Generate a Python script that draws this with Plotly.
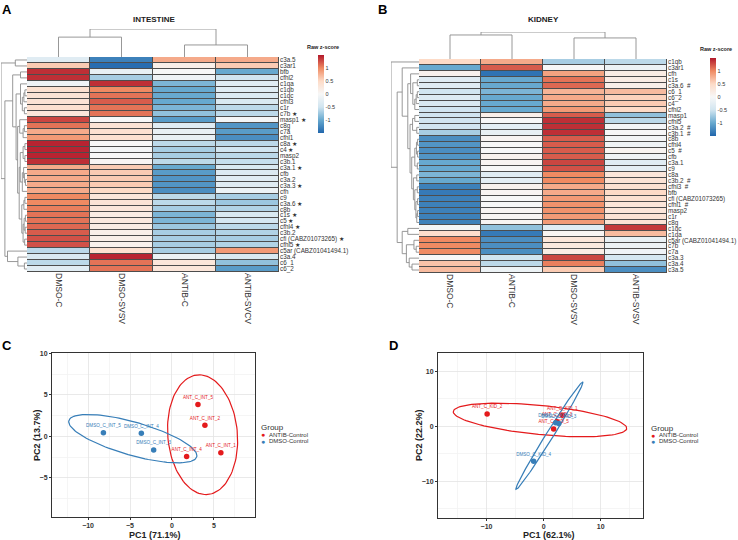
import numpy as np
import plotly.graph_objects as go

W, H = 738, 540
FONT = "Liberation Sans, Arial, sans-serif"

# ---------------- Panel A : INTESTINE heatmap ----------------
int_cols = ["DMSO-C", "DMSO-SVSV", "ANTIB-C", "ANTIB-SVCV"]
int_rows = ["c3a.5", "c3ar1", "bfb", "cfhl2", "c1qa", "c1qb", "c1qc", "cfhl3", "c1r", "c7b ★",
            "masp1 ★", "c8g", "c7a", "cfhl1", "c8a ★", "c4 ★", "masp2", "c3b.1", "c3a.1 ★", "cfb",
            "c3a.2", "c3a.3 ★", "cfh", "c9", "c3a.6 ★", "c8b", "c1s ★", "c5 ★", "cfhl4 ★", "c3b.2",
            "cfi (CABZ01073265) ★", "cfhl5 ★", "c5ar (CABZ01041494.1)", "c3a.4", "c6_1", "c6_2"]
int_z = [
    [-0.3, -1.3, 0.8, 0.8], [0.6, -1.45, 0.15, 0.6], [1.4, -0.2, 0.0, -1.0], [1.4, -0.7, -0.1, -0.5],
    [-0.1, 1.4, -0.9, -0.3], [0.4, 1.0, -1.0, -0.3], [0.35, 1.1, -1.0, -0.35], [0.35, 1.2, -1.0, -0.4],
    [0.4, 1.1, -0.9, -0.6], [0.3, 1.1, -0.8, -0.6], [1.3, 0.0, -1.1, -0.05], [1.1, 0.35, -0.3, -1.15],
    [0.8, 0.4, -0.2, -1.1], [0.9, 0.4, -0.2, -1.2], [1.45, 0.0, -0.6, -0.6], [1.45, -0.05, -0.7, -0.5],
    [1.45, 0.0, -0.7, -0.6], [1.4, 0.05, -0.6, -0.55], [0.8, 0.6, -1.0, -0.4], [0.8, 0.6, -1.1, -0.35],
    [0.8, 0.6, -1.15, -0.3], [0.8, 0.6, -1.15, -0.3], [0.8, 0.5, -1.2, -0.15], [1.0, 0.3, -0.6, -0.7],
    [1.0, 0.35, -0.6, -0.75], [1.05, 0.3, -0.7, -0.65], [1.1, 0.2, -0.9, -0.4], [1.1, 0.25, -0.9, -0.45],
    [1.15, 0.2, -0.75, -0.6], [1.2, 0.15, -0.7, -0.65], [1.25, 0.15, -0.7, -0.7], [1.25, 0.1, -0.7, -0.65],
    [-0.6, 0.4, -0.7, 0.9], [-0.4, 1.45, -0.15, -0.4], [-0.6, 1.1, 0.3, -0.8], [-0.3, 1.1, 0.3, -1.1]]
int_row_merges = [
    [34, 35, 1.0], [33, 36, 3.5], [32, 37, 7.5], [0, 1, 4.5], [2, 3, 2.5], [5, 6, 0.8], [41, 7, 1.2],
    [8, 9, 1.0], [42, 43, 1.8], [4, 44, 2.5], [11, 12, 1.0], [46, 13, 1.5], [10, 47, 2.8], [14, 15, 0.8],
    [16, 17, 0.8], [49, 50, 1.5], [20, 21, 0.6], [19, 52, 1.0], [18, 53, 1.3], [54, 22, 1.8],
    [23, 24, 0.8], [25, 56, 1.2], [26, 27, 0.6], [28, 29, 0.7], [58, 59, 1.1], [30, 31, 0.9],
    [60, 61, 1.5], [57, 62, 2.0], [51, 55, 2.6], [64, 63, 3.0], [48, 65, 3.6], [45, 66, 4.2],
    [40, 67, 5.5], [68, 38, 8.5], [39, 69, 10.0]]
int_col_merges = [[0, 1, 7.1], [2, 3, 4.3], [4, 5, 10.0]]

# ---------------- Panel B : KIDNEY heatmap ----------------
kid_cols = ["DMSO-C", "ANTIB-C", "DMSO-SVSV", "ANTIB-SVSV"]
kid_rows = ["c1qb", "c3ar1", "cfh", "c1s", "c3a.6  #", "c6_1", "c6_2", "c4", "cfhl2", "masp1",
            "cfhl5", "c3a.2  #", "c3b.1  #", "c8b", "cfhl4", "c5  #", "cfb", "c3a.1", "c9", "c8a",
            "c3b.2  #", "cfhl3  #", "bfb", "cfi (CABZ01073265)", "cfhl1  #", "masp2", "c1r", "c8g",
            "c1qc", "c1qa", "c5ar (CABZ01041494.1)", "c7b", "c7a", "c3a.3", "c3a.4", "c3a.5"]
kid_z = [
    [0.5, 0.8, -0.7, -0.6], [-1.0, 1.2, 0.0, -0.15], [0.1, -1.4, 0.85, 0.2], [-0.3, -1.0, 1.1, 0.2],
    [-0.3, -1.0, 1.15, 0.15], [-0.5, -0.9, 0.75, 0.7], [-0.35, -1.0, 0.8, 0.55], [-0.4, -1.0, 0.8, 0.6],
    [-0.5, -1.0, 0.9, 0.5], [-0.5, 0.15, 1.2, -0.8], [-0.5, 0.0, 1.4, -0.6], [-0.5, -0.25, 1.4, -0.05],
    [-0.7, -0.2, 1.4, 0.0], [-1.2, 0.05, 1.2, -0.05], [-1.15, 0.0, 1.2, -0.1], [-1.2, 0.0, 1.2, 0.05],
    [-1.15, 0.1, 1.2, -0.1], [-1.0, 0.05, 1.3, -0.3], [-1.0, 0.0, 1.25, -0.25], [-0.9, -0.3, 1.0, 0.3],
    [-1.0, -0.25, 1.0, 0.35], [-1.3, 0.1, 0.8, 0.4], [-1.35, 0.05, 0.8, 0.5], [-1.3, 0.0, 0.9, 0.4],
    [-1.3, 0.0, 0.95, 0.3], [-1.3, 0.05, 0.95, 0.3], [-1.3, 0.05, 0.9, 0.35], [-1.3, 0.05, 0.9, 0.35],
    [-0.05, -0.8, -0.3, 1.35], [0.45, -1.35, 0.05, 0.7], [1.0, -1.2, 0.3, -0.2], [1.0, -1.2, 0.25, -0.15],
    [1.0, -1.2, 0.2, -0.1], [0.0, -0.5, 1.3, -0.45], [0.65, -0.6, 1.05, -0.8], [0.7, -0.15, 0.6, -1.2]]
kid_row_merges = [
    [5, 6, 0.6], [36, 7, 1.0], [37, 8, 1.5], [3, 4, 0.6], [39, 38, 2.2], [2, 40, 3.0], [9, 10, 1.5],
    [11, 12, 0.8], [42, 43, 2.3], [13, 14, 0.5], [15, 16, 0.5], [45, 46, 0.9], [17, 18, 0.6],
    [47, 48, 1.5], [19, 20, 0.8], [21, 22, 0.6], [23, 24, 0.5], [25, 26, 0.5], [53, 27, 0.8],
    [52, 54, 1.1], [51, 55, 1.5], [50, 56, 2.0], [49, 57, 2.6], [44, 58, 3.2], [41, 59, 4.0],
    [1, 60, 6.0], [28, 29, 4.0], [31, 32, 1.0], [30, 63, 1.8], [34, 35, 2.5], [33, 65, 3.5],
    [64, 66, 4.5], [62, 67, 6.0], [61, 68, 7.8], [0, 69, 10.0]]
kid_col_merges = [[0, 1, 8.9], [2, 3, 7.8], [4, 5, 10.0]]

# ---------------- Panel C / D : PCA ----------------
c_antib_x = [3.1, 3.93, 5.83, 1.75]
c_antib_y = [3.84, 1.36, -1.96, -2.4]
c_antib_lab = ["ANT_C_INT_5", "ANT_C_INT_2", "ANT_C_INT_1", "ANT_C_INT_4"]
c_dmso_x = [-8.17, -3.65, -2.18]
c_dmso_y = [0.44, 0.4, -1.64]
c_dmso_lab = ["DMSO_C_INT_5", "DMSO_C_INT_4", "DMSO_C_INT_3"]

d_antib_x = [-9.9, 3.27, 2.33, 1.75]
d_antib_y = [2.2, 2.0, 0.8, -0.5]
d_antib_lab = ["ANT_C_KID_2", "ANT_C_KID_1", "ANT_C_KID_3", "ANT_C_KID_5"]
d_dmso_x = [-1.75, 2.1, 2.65]
d_dmso_y = [-6.36, 0.6, 0.5]
d_dmso_lab = ["DMSO_C_KID_4", "DMSO_C_KID_1", "DMSO_C_KID_3"]

RED = "#E41A1C"
BLUE = "#377EB8"
RDBU = [[0.0, "#2166AC"], [1/6, "#67A9CF"], [2/6, "#D1E5F0"], [0.5, "#F7F7F7"],
        [4/6, "#FDDBC7"], [5/6, "#EF8A62"], [1.0, "#B2182B"]]


def xd(a, b):
    return [a / W, b / W]


def yd(top, bottom):
    return [1 - bottom / H, 1 - top / H]


def dendro(n, merges):
    pos = {i: float(i) for i in range(n)}
    hgt = {i: 0.0 for i in range(n)}
    p, h = [], []
    for k, (a, b, ht) in enumerate(merges):
        pa, pb = pos[a], pos[b]
        p += [pa, pa, pb, pb, None]
        h += [hgt[a], ht, ht, hgt[b], None]
        pos[n + k] = (pa + pb) / 2
        hgt[n + k] = ht
    return p, h


def ellipse(xs, ys, r=2.4477, n=120):
    xs, ys = np.array(xs), np.array(ys)
    cov = np.cov(np.vstack([xs, ys]))
    vals, vecs = np.linalg.eigh(cov)
    t = np.linspace(0, 2 * np.pi, n)
    circ = np.vstack([np.cos(t), np.sin(t)]) * (np.sqrt(vals)[:, None] * r)
    pts = vecs @ circ
    return pts[0] + xs.mean(), pts[1] + ys.mean()


fig = go.Figure()
shapes = []
annotations = []
DCOL = "#8c8c8c"


def add_heatmap(z, rows, cols, rmerges, cmerges, ax, cbx, cbtop):
    xa, ya = ax[0]
    fig.add_trace(go.Heatmap(
        z=z, x=list(range(len(cols))), y=list(range(len(rows))), colorscale=RDBU,
        zmin=-1.5, zmax=1.5, xgap=1, ygap=1, xaxis=xa, yaxis=ya, hoverinfo="skip",
        colorbar=dict(x=cbx / W, xanchor="left", y=1 - cbtop / H, yanchor="top",
                      len=78, lenmode="pixels", thickness=6, thicknessmode="pixels",
                      outlinewidth=0, xpad=0, ypad=0, ticks="",
                      tickvals=[-1, -0.5, 0, 0.5, 1], ticktext=["-1", "-0.5", "0", "0.5", "1"],
                      tickfont=dict(size=5.5, color="#333", family=FONT))))
    shapes.append(dict(type="rect", xref=xa, yref=ya, x0=-0.5, x1=len(cols) - 0.5,
                       y0=-0.5, y1=len(rows) - 0.5, fillcolor="#4d4d4d",
                       line=dict(width=0), layer="below"))
    cp, ch = dendro(len(cols), cmerges)
    fig.add_trace(go.Scatter(x=cp, y=ch, mode="lines", line=dict(color=DCOL, width=0.9),
                             xaxis=ax[1][0], yaxis=ax[1][1], hoverinfo="skip",
                             showlegend=False, cliponaxis=False))
    rp, rh = dendro(len(rows), rmerges)
    fig.add_trace(go.Scatter(x=rh, y=rp, mode="lines", line=dict(color=DCOL, width=0.9),
                             xaxis=ax[2][0], yaxis=ax[2][1], hoverinfo="skip",
                             showlegend=False, cliponaxis=False))


add_heatmap(int_z, int_rows, int_cols, int_row_merges, int_col_merges,
            [("x", "y"), ("x2", "y2"), ("x3", "y3")], 318, 55)
add_heatmap(kid_z, kid_rows, kid_cols, kid_row_merges, kid_col_merges,
            [("x4", "y4"), ("x5", "y5"), ("x6", "y6")], 710, 58)


def add_pca(xa, ya, ax_, ay_, alab, bx, by, blab):
    for xs, ys, lab, col in [(ax_, ay_, alab, RED), (bx, by, blab, BLUE)]:
        ex, ey = ellipse(xs, ys)
        fig.add_trace(go.Scatter(x=ex, y=ey, mode="lines", line=dict(color=col, width=1.2),
                                 xaxis=xa, yaxis=ya, hoverinfo="skip", showlegend=False))
    for xs, ys, lab, col in [(ax_, ay_, alab, RED), (bx, by, blab, BLUE)]:
        fig.add_trace(go.Scatter(x=xs, y=ys, mode="markers+text", text=lab,
                                 textposition="top center",
                                 textfont=dict(size=4.6, color=col, family=FONT),
                                 marker=dict(color=col, size=5.5),
                                 xaxis=xa, yaxis=ya, hoverinfo="skip", showlegend=False))


add_pca("x7", "y7", c_antib_x, c_antib_y, c_antib_lab, c_dmso_x, c_dmso_y, c_dmso_lab)
add_pca("x8", "y8", d_antib_x, d_antib_y, d_antib_lab, d_dmso_x, d_dmso_y, d_dmso_lab)

hid = dict(visible=False, fixedrange=True, automargin=False)
lay = dict(
    template="none",
    width=W, height=H, margin=dict(l=0, r=0, t=0, b=0, pad=0), paper_bgcolor="white",
    plot_bgcolor="white", showlegend=False, font=dict(family=FONT, color="#222"),
    xaxis=dict(domain=xd(27, 279), range=[-0.5, 3.5], tickvals=list(range(4)), ticktext=int_cols,
               tickangle=90, tickfont=dict(size=8.5, color="#333"), showgrid=False,
               zeroline=False, ticks="", anchor="y", fixedrange=True, automargin=False,
               showline=False),
    yaxis=dict(domain=yd(57, 272), range=[35.5, -0.5], tickvals=list(range(36)), ticktext=int_rows,
               side="right", anchor="x", tickfont=dict(size=6.3, color="#333"), showgrid=False,
               zeroline=False, ticks="", fixedrange=True, automargin=False, showline=False),
    xaxis2=dict(domain=xd(27, 279), range=[-0.5, 3.5], anchor="y2", **hid),
    yaxis2=dict(domain=yd(29, 57), range=[0, 10], anchor="x2", **hid),
    xaxis3=dict(domain=xd(1, 27), range=[10, 0], anchor="y3", **hid),
    yaxis3=dict(domain=yd(57, 272), range=[35.5, -0.5], anchor="x3", **hid),
    xaxis4=dict(domain=xd(419, 667), range=[-0.5, 3.5], tickvals=list(range(4)), ticktext=kid_cols,
                tickangle=90, tickfont=dict(size=8.5, color="#333"), showgrid=False,
                zeroline=False, ticks="", anchor="y4", fixedrange=True, automargin=False,
                showline=False),
    yaxis4=dict(domain=yd(59, 273), range=[35.5, -0.5], tickvals=list(range(36)), ticktext=kid_rows,
                side="right", anchor="x4", tickfont=dict(size=6.3, color="#333"), showgrid=False,
                zeroline=False, ticks="", fixedrange=True, automargin=False, showline=False),
    xaxis5=dict(domain=xd(419, 667), range=[-0.5, 3.5], anchor="y5", **hid),
    yaxis5=dict(domain=yd(32, 59), range=[0, 10], anchor="x5", **hid),
    xaxis6=dict(domain=xd(391, 419), range=[10, 0], anchor="y6", **hid),
    yaxis6=dict(domain=yd(59, 273), range=[35.5, -0.5], anchor="x6", **hid),
)


def pca_axis(domain, rng, dtick, anchor):
    return dict(domain=domain, range=rng, dtick=dtick, tick0=0, anchor=anchor,
                showgrid=True, gridcolor="#e3e3e3", gridwidth=0.8, zeroline=False,
                showline=True, mirror=True, linecolor="#333", linewidth=1,
                ticks="outside", ticklen=2, tickcolor="#333", automargin=False,
                tickfont=dict(size=7, color="#333", weight="bold"),
                minor=dict(showgrid=True, gridcolor="#f3f3f3", dtick=dtick / 2, tick0=0),
                fixedrange=True)


lay["xaxis7"] = pca_axis(xd(52, 255), [-14.3, 9.9], 5, "y7")
lay["yaxis7"] = pca_axis(yd(353, 517), [-9.7, 10.05], 5, "x7")
lay["xaxis8"] = pca_axis(xd(438, 643), [-18.5, 17.4], 10, "y8")
lay["yaxis8"] = pca_axis(yd(353, 518), [-16.7, 13.3], 10, "x8")


def ann(text, x, y, size, bold=False, xanchor="center", color="#222", angle=0):
    annotations.append(dict(text=text, x=x / W, y=1 - y / H, xref="paper", yref="paper",
                            xanchor=xanchor, yanchor="middle", showarrow=False,
                            textangle=angle,
                            font=dict(size=size, color=color, family=FONT,
                                      weight="bold" if bold else "normal")))


ann("A", 0, 9, 13, True, "left", "#000")
ann("B", 376, 9, 13, True, "left", "#000")
ann("C", 0, 345, 13, True, "left", "#000")
ann("D", 387, 345, 13, True, "left", "#000")
ann("INTESTINE", 153.5, 19.5, 8, True)
ann("KIDNEY", 543, 20, 8, True)
ann("Raw z-score", 323, 46.5, 5.5, True)
ann("Raw z-score", 716, 49, 5.5, True)
ann("PC1 (71.1%)", 155, 534.5, 9, True)
ann("PC2 (13.7%)", 37, 435, 9, True, angle=-90)
ann("PC1 (62.1%)", 549, 534.5, 9, True)
ann("PC2 (22.2%)", 419, 435, 9, True, angle=-90)
for gx, gy in [(259, 427.5), (649, 428)]:
    ann("Group", gx, gy, 8, False, "left", "#333")
    ann("●", gx + 4.3, gy + 7, 7, False, "center", RED)
    ann("ANTIB-Control", gx + 8, gy + 7, 6, False, "left", "#333")
    ann("●", gx + 4.3, gy + 13.5, 7, False, "center", BLUE)
    ann("DMSO-Control", gx + 8, gy + 13.5, 6, False, "left", "#333")

lay["shapes"] = shapes
lay["annotations"] = annotations
fig.update_layout(**lay)
fig.write_html("out.html", config={"displayModeBar": False, "staticPlot": True},
               post_script="document.body.style.margin='0';document.body.style.padding='0';")
